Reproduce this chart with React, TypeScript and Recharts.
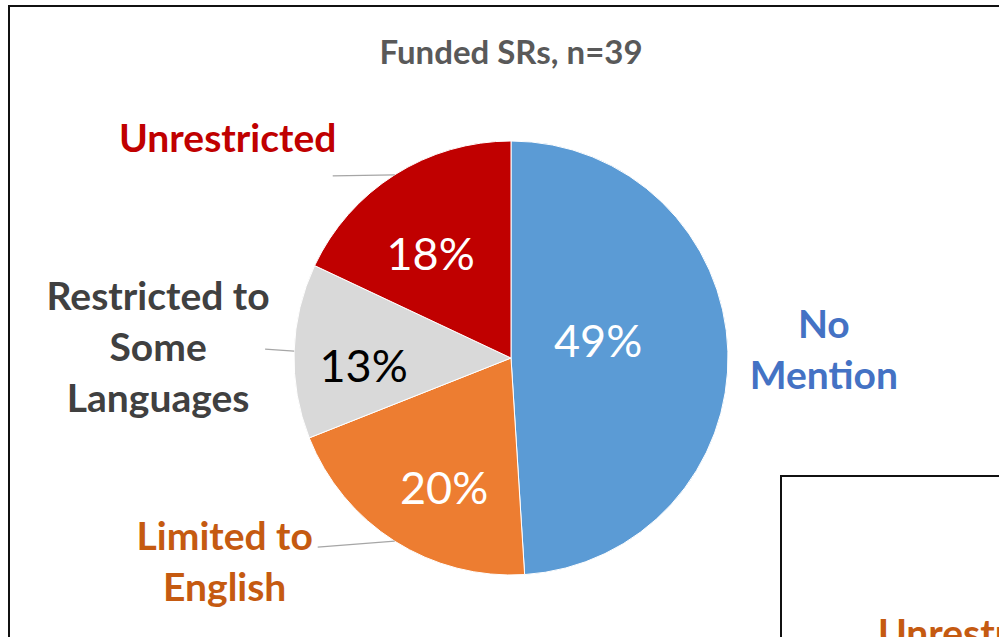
import React from "react";
import { Cell, Pie, PieChart } from "recharts";

const categories = ["No\nMention", "Limited to\nEnglish", "Restricted to\nSome\nLanguages", "Unrestricted"];
const shares = [49, 20, 13, 18];
const sliceColors = ["#5B9BD5", "#ED7D31", "#D9D9D9", "#C00000"];
const nameColors = ["#4472C4", "#C55A11", "#404040", "#C00000"];
const pctColors = ["#FFFFFF", "#FFFFFF", "#000000", "#FFFFFF"];

const data = categories.map((name, i) => ({ name, value: shares[i] }));

// label placement, relative to each slice's geometry
const innerPos = [
  { r: 0.41, shift: 10 },
  { r: 0.67, shift: 5 },
  { r: 0.68, shift: 4.5 },
  { r: 0.61, shift: 5 },
];
const outerPos = [
  { lead: 0, ldy: 0, tx: 0, ty: 0 },
  { lead: 77, ldy: 6, tx: -93, ty: -12 },
  { lead: 29, ldy: -2, tx: -107, ty: -54 },
  { lead: 62, ldy: 1, tx: -105, ty: -39 },
];

const RAD = Math.PI / 180;
const FONT = "Lato, 'Open Sans', sans-serif";
const LINE_H = 51;
const NAME_SIZE = 39;

function polar(cx: number, cy: number, r: number, a: number) {
  return { x: cx + r * Math.cos(-a * RAD), y: cy + r * Math.sin(-a * RAD) };
}

function renderLabel(props: any) {
  const { cx, cy, midAngle, outerRadius, index } = props;
  const ip = innerPos[index];
  const p = polar(cx, cy, outerRadius * ip.r, midAngle + ip.shift);
  const lines = categories[index].split("\n");
  const op = outerPos[index];
  let outer;
  if (index === 0) {
    const q = polar(cx, cy, outerRadius + 96, midAngle);
    outer = (
      <text textAnchor="middle" fontFamily={FONT} fontWeight={700} fontSize={NAME_SIZE} fill={nameColors[index]}>
        {lines.map((l, k) => (
          <tspan key={k} x={q.x} y={q.y - 25 + k * LINE_H} dominantBaseline="central">{l}</tspan>
        ))}
      </text>
    );
  } else {
    const e = polar(cx, cy, outerRadius, midAngle);
    const end = { x: e.x - op.lead, y: e.y + op.ldy };
    outer = (
      <g>
        <line x1={e.x} y1={e.y} x2={end.x} y2={end.y} stroke="#A6A6A6" strokeWidth={1.2} />
        <text textAnchor="middle" fontFamily={FONT} fontWeight={700} fontSize={NAME_SIZE} fill={nameColors[index]}>
          {lines.map((l, k) => (
            <tspan key={k} x={end.x + op.tx} y={end.y + op.ty + k * LINE_H} dominantBaseline="central">{l}</tspan>
          ))}
        </text>
      </g>
    );
  }
  return (
    <g key={`lbl-${index}`}>
      {outer}
      <text x={p.x} y={p.y} textAnchor="middle" dominantBaseline="central" fontFamily={FONT} fontSize={45} fill={pctColors[index]}>
        {`${shares[index]}%`}
      </text>
    </g>
  );
}

export default function App() {
  return (
    <div style={{ position: "absolute", left: 0, top: 0, width: 999, height: 637, overflow: "hidden", background: "#fff" }}>
      <div style={{ position: "absolute", left: 8, top: 5, width: 1100, height: 700, border: "2px solid #111" }} />
      <div
        style={{
          position: "absolute", left: 0, top: 31, width: 1022, textAlign: "center", lineHeight: "40px",
          fontFamily: FONT, fontWeight: 700, fontSize: 33, color: "#595959",
        }}
      >
        Funded SRs, n=39
      </div>
      <div style={{ position: "absolute", left: 0, top: 0 }}>
        <PieChart width={999} height={637} margin={{ top: 0, right: 0, bottom: 0, left: 0 }}>
          <Pie
            data={data}
            dataKey="value"
            nameKey="name"
            cx={511}
            cy={358}
            outerRadius={217}
            startAngle={90}
            endAngle={-270}
            stroke="#FFFFFF"
            strokeWidth={1}
            label={renderLabel}
            labelLine={false}
            isAnimationActive={false}
          >
            {data.map((d, i) => (
              <Cell key={d.name} fill={sliceColors[i]} />
            ))}
          </Pie>
        </PieChart>
      </div>
      <div style={{ position: "absolute", left: 780, top: 475, width: 400, height: 300, border: "2px solid #111", background: "#fff" }}>
        <div style={{ position: "absolute", left: 96, top: 131, lineHeight: "48px", fontFamily: FONT, fontWeight: 700, fontSize: NAME_SIZE, color: "#C55A11", whiteSpace: "nowrap" }}>
          Unrestricted
        </div>
      </div>
    </div>
  );
}
